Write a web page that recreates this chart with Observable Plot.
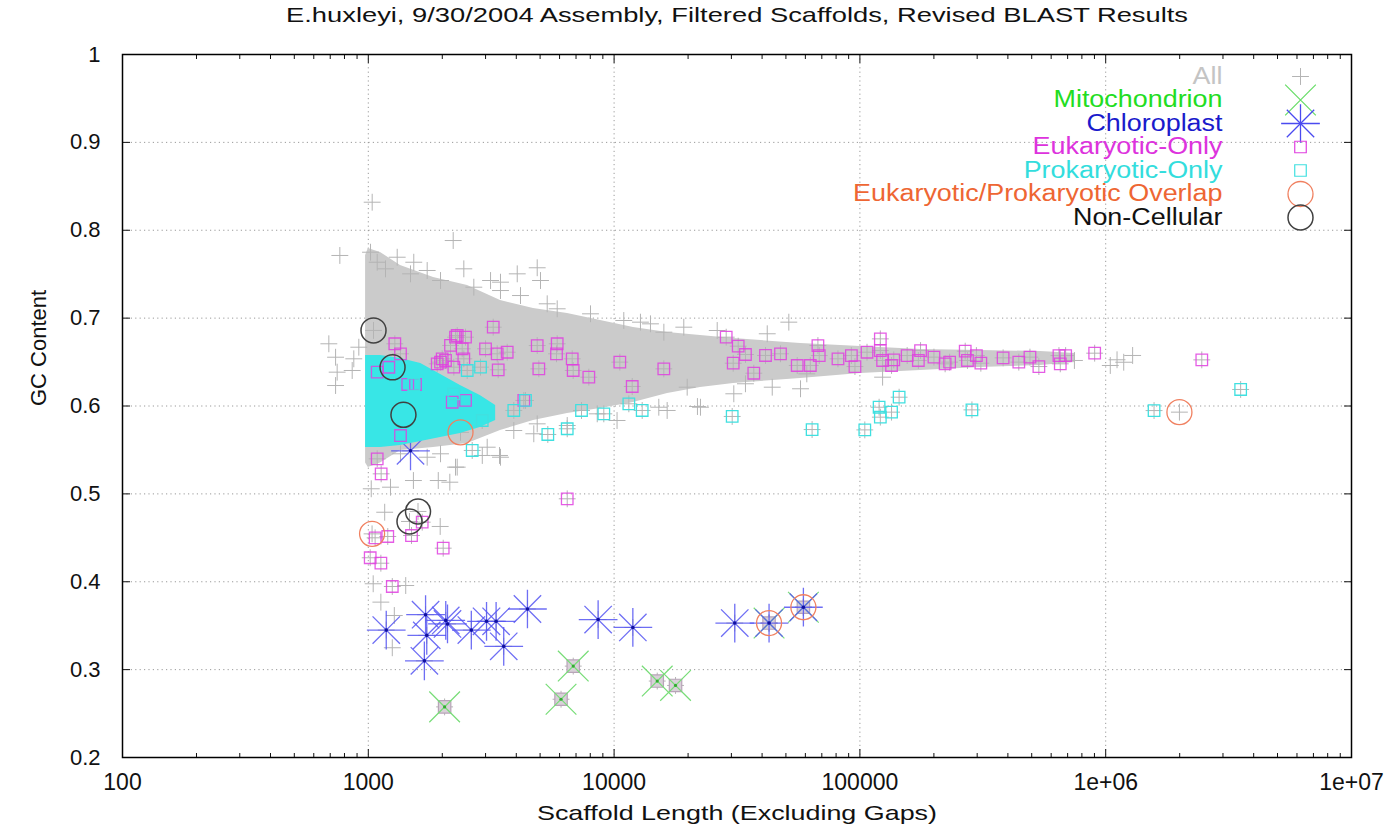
<!DOCTYPE html>
<html><head><meta charset="utf-8">
<script src="https://cdn.jsdelivr.net/npm/d3@7"></script>
<script src="https://cdn.jsdelivr.net/npm/@observablehq/plot@0.6"></script>
<style>html,body{margin:0;padding:0;background:#fff;} svg{display:block}</style>
</head><body><div id="chart"></div>
<script>
// ---------- text ----------
const titleText = "E.huxleyi, 9/30/2004 Assembly, Filtered Scaffolds, Revised BLAST Results";
const xTitle = "Scaffold Length (Excluding Gaps)";
const yTitle = "GC Content";
const xTicks = [100, 1000, 10000, 100000, 1000000, 10000000];
const xTickLabels = ["100", "1000", "10000", "100000", "1e+06", "1e+07"];
const yTicks = [0.2, 0.3, 0.4, 0.5, 0.6, 0.7, 0.8, 0.9, 1];
const yTickLabels = ["0.2", "0.3", "0.4", "0.5", "0.6", "0.7", "0.8", "0.9", "1"];
const legendLabels = ["All", "Mitochondrion", "Chloroplast", "Eukaryotic-Only", "Prokaryotic-Only", "Eukaryotic/Prokaryotic Overlap", "Non-Cellular"];
const legendColors = ["#c4c4c4", "#22dd22", "#1a1acc", "#dd33dd", "#33dddd", "#ee6633", "#111111"];

// ---------- "All" dense core (envelope of the cloud) ----------
const allBandX  = [975, 1000, 1121, 1352, 1842, 2533, 3450, 4700, 6462, 8803, 11990, 16500, 22460, 30600, 57340, 100600, 176400, 309500, 543000, 753500];
const allBandHi = [0.7713, 0.7792, 0.7747, 0.7599, 0.7462, 0.7371, 0.7201, 0.7110, 0.7053, 0.6973, 0.6893, 0.6837, 0.6802, 0.6768, 0.6711, 0.6677, 0.6643, 0.6632, 0.6620, 0.6598];
const allBandLo = [0.5350, 0.5300, 0.5350, 0.5494, 0.5528, 0.5573, 0.5721, 0.5835, 0.5915, 0.5972, 0.6040, 0.6142, 0.6211, 0.6256, 0.6313, 0.6370, 0.6404, 0.6438, 0.6461, 0.6495];
// ---------- "All" individual points around the core ----------
const allX = [1037, 766, 1021, 1311, 1531, 2215, 2447, 4866, 5019, 4036, 3450, 3143, 5868, 12800, 19210, 51380, 691, 736, 873, 747, 860, 736, 915, 19830, 34230, 43990, 22460, 3450, 2300, 1967, 3908, 4866, 8539, 15200, 1166, 1961, 1028, 1231, 1526, 1926, 2146, 2909, 3418, 2264, 1047, 1125, 1420, 1276, 1252, 15940, 21830, 123700, 60810, 1044000, 1184000, 1287000, 1112000, 746000, 1087, 1175, 1485, 1736, 1967, 2687, 3450, 4161, 5344, 8017, 10950, 14060, 26270, 41980, 1352, 1736, 3046, 4713, 6446, 10280, 16440, 30690, 57340];
const allY = [0.8319, 0.7713, 0.775, 0.7693, 0.7636, 0.7883, 0.7561, 0.7573, 0.7428, 0.7504, 0.7409, 0.7428, 0.7106, 0.6954, 0.6897, 0.6954, 0.6708, 0.6555, 0.6537, 0.6385, 0.6404, 0.6233, 0.6669, 0.6214, 0.6253, 0.6214, 0.5986, 0.5417, 0.5304, 0.5456, 0.5721, 0.5797, 0.5911, 0.5986, 0.4791, 0.4629, 0.5058, 0.5076, 0.5152, 0.5152, 0.5133, 0.5437, 0.5437, 0.5304, 0.3977, 0.3768, 0.3957, 0.3616, 0.3249, 0.684, 0.5994, 0.6328, 0.6366, 0.6461, 0.6498, 0.6575, 0.6526, 0.6518, 0.7636, 0.7561, 0.7504, 0.7542, 0.7428, 0.7352, 0.7314, 0.7257, 0.7163, 0.7049, 0.6973, 0.6935, 0.6859, 0.6822, 0.5456, 0.5417, 0.5531, 0.5684, 0.5778, 0.5835, 0.5949, 0.6139, 0.6196];

// ---------- Mitochondrion ----------
const mitoX = [2044, 6083, 6820, 14980, 17780, 42700, 58900];
const mitoY = [0.2576, 0.2663, 0.304, 0.287, 0.282, 0.353, 0.371];
// ---------- Chloroplast ----------
const chloroX = [1485, 1183, 1710, 1729, 1691, 2066, 2100, 2625, 3027, 3311, 4441, 3556, 8610, 11920, 30970, 42700, 58900];
const chloroY = [0.549, 0.345, 0.3625, 0.339, 0.310, 0.356, 0.352, 0.345, 0.355, 0.355, 0.369, 0.3265, 0.357, 0.348, 0.353, 0.353, 0.371];
// ---------- Eukaryotic-Only ----------
const eukX = [1282, 1352, 1087, 1212, 1556, 1447, 1352, 1087, 1128, 1907, 1998, 2061, 2160, 2264, 2486, 2410, 2447, 2228, 3223, 2999, 3345, 3674, 3377, 4866, 4940, 5868, 5830, 6754, 6816, 7892, 10550, 11850, 15930, 28580, 31980, 30520, 34230, 37010, 41300, 47530, 55590, 2195, 2486, 4292, 1967, 2300, 6446, 1066, 1200, 1499, 1657, 2017, 1018, 1125, 1252, 62850, 67480, 68330, 81440, 92340, 95460, 106900, 121100, 121100, 123700, 134500, 137300, 155700, 172900, 176500, 200100, 222200, 231700, 268200, 273900, 297800, 310500, 382500, 443100, 491800, 534700, 645300, 687100, 653500, 901800, 2460000];
const eukY = [0.6708, 0.6594, 0.6385, 0.6441, 0.6245, 0.6245, 0.5664, 0.5399, 0.5228, 0.6480, 0.6537, 0.6518, 0.6689, 0.6783, 0.6783, 0.6651, 0.6537, 0.6442, 0.6897, 0.6651, 0.6594, 0.6612, 0.6412, 0.6688, 0.6423, 0.6708, 0.6594, 0.6537, 0.6404, 0.6328, 0.6499, 0.6222, 0.6423, 0.6783, 0.6681, 0.6487, 0.6586, 0.6373, 0.6575, 0.6594, 0.6461, 0.6043, 0.6063, 0.6063, 0.6499, 0.6802, 0.4944, 0.45, 0.4515, 0.4526, 0.4678, 0.4382, 0.4273, 0.4211, 0.3946, 0.6461, 0.6688, 0.6574, 0.6537, 0.6574, 0.6449, 0.6612, 0.6764, 0.6631, 0.6518, 0.6461, 0.6525, 0.6574, 0.6518, 0.6631, 0.6556, 0.648, 0.6499, 0.6624, 0.6518, 0.6574, 0.6487, 0.6548, 0.6499, 0.6556, 0.6449, 0.6574, 0.6574, 0.648, 0.6601, 0.6525];
// ---------- Prokaryotic-Only (dense core + individual) ----------
const prokBandX  = [975, 1121, 1352, 1635, 1969, 2370, 2853, 3297];
const prokBandHi = [0.6575, 0.6575, 0.6541, 0.6484, 0.6359, 0.6233, 0.6120, 0.6006];
const prokBandLo = [0.5528, 0.5528, 0.5551, 0.5596, 0.5642, 0.5687, 0.5755, 0.5835];
const prokX = [2647, 2907, 3908, 4360, 5375, 6446, 7369, 9081, 11480, 13010, 30230, 2861, 2526, 2228, 1530, 63910, 104700, 119700, 121100, 134500, 144400, 285600, 1573000, 3540000];
const prokY = [0.5494, 0.5835, 0.5949, 0.6063, 0.5676, 0.5741, 0.5949, 0.5911, 0.6025, 0.5949, 0.5881, 0.6442, 0.6404, 0.6139, 0.6245, 0.5732, 0.5728, 0.5986, 0.5873, 0.5930, 0.6100, 0.5956, 0.5948, 0.6188];
// ---------- Overlap ----------
const overlapX = [1036, 2372, 42700, 58900, 1995000];
const overlapY = [0.4545, 0.570, 0.353, 0.371, 0.593];
// ---------- Non-Cellular ----------
const nonCellX = [1050, 1255, 1390, 1471, 1593];
const nonCellY = [0.686, 0.644, 0.590, 0.4686, 0.480];

// ---------- tables ----------
const rows = (xs, ys) => xs.map((x, i) => ({x, y: ys[i]}));
const band = (xs, lo, hi) => xs.map((x, i) => ({x, lo: lo[i], hi: hi[i]}));
const allPts = rows(allX, allY);
const mito = rows(mitoX, mitoY);
const chloro = rows(chloroX, chloroY);
const euk = rows(eukX, eukY);
const prok = rows(prokX, prokY);
const overlap = rows(overlapX, overlapY);
const nonCell = rows(nonCellX, nonCellY);
const everyScaffold = [...allPts, ...mito, ...chloro, ...euk, ...prok, ...overlap, ...nonCell];

const xMinor = [];
for (let d = 100; d < 1e7; d *= 10) for (let k = 2; k <= 9; k++) xMinor.push(d * k);

const fmtX = d => xTickLabels[xTicks.indexOf(d)];
const fmtY = d => yTickLabels[yTicks.indexOf(d)];
const none = () => "";

const legendSymbols = [
  [{symbol: "plus", r: 5.5, stroke: "#b4b4b4", strokeWidth: 1}],
  [{symbol: "times", r: 14, stroke: "#66dd66", strokeWidth: 1.2}],
  [{symbol: "plus", r: 12.5, stroke: "#4a4af0", strokeWidth: 1.3}, {symbol: "times", r: 12.5, stroke: "#4a4af0", strokeWidth: 1.3}],
  [{symbol: "square", r: 6.5, stroke: "#e040e0", strokeWidth: 1.2}],
  [{symbol: "square", r: 6.5, stroke: "#40e0e0", strokeWidth: 1.2}],
  [{symbol: "circle", r: 12.5, stroke: "#f08060", strokeWidth: 1.3}],
  [{symbol: "circle", r: 12.5, stroke: "#404040", strokeWidth: 1.5}]
];
const legendMarks = [];
legendLabels.forEach((lab, i) => {
  legendMarks.push(Plot.text([lab], {frameAnchor: "top-right", lineAnchor: "middle", dx: -129, dy: 22 + 23.5 * i, textAnchor: "end", fill: legendColors[i], fontSize: 23}));
  legendSymbols[i].forEach(s => legendMarks.push(Plot.dot([lab], {frameAnchor: "top-right", dx: -51, dy: 22 + 23.5 * i, fill: "none", ...s})));
});

const chart = Plot.plot({
  width: 1393,
  height: 830,
  marginLeft: 122,
  marginRight: 42,
  marginTop: 54,
  marginBottom: 73,
  style: {fontFamily: "'Liberation Sans', Arial, Helvetica, sans-serif", fontSize: "22px", background: "#fff", color: "#111"},
  x: {type: "log", domain: [100, 1e7]},
  y: {domain: [0.2, 1]},
  marks: [
    Plot.gridX(xTicks, {stroke: "#888", strokeOpacity: 0.85, strokeDasharray: "1.2,3.2", strokeWidth: 1}),
    Plot.gridY(yTicks, {stroke: "#888", strokeOpacity: 0.85, strokeDasharray: "1.2,3.2", strokeWidth: 1}),
    // All
    Plot.areaY(band(allBandX, allBandLo, allBandHi), {x: "x", y1: "lo", y2: "hi", fill: "#cbcbcb", curve: "linear"}),
    Plot.dot(everyScaffold, {x: "x", y: "y", symbol: "plus", r: 5.5, stroke: "#b4b4b4", strokeWidth: 1}),
    // Mitochondrion
    Plot.dot(mito, {x: "x", y: "y", symbol: "square", r: 7, stroke: "#b8a4b8", fill: "#d8d0d8", strokeWidth: 1.2}),
    Plot.dot(mito, {x: "x", y: "y", symbol: "times", r: 14, stroke: "#77dd77", strokeWidth: 1.2}),
    Plot.dot(mito, {x: "x", y: "y", r: 1.6, fill: "#33aa33"}),
    // Chloroplast
    Plot.dot(chloro, {x: "x", y: "y", symbol: "plus", r: 12.5, stroke: "#5555f2", strokeWidth: 1.3, strokeOpacity: 0.85}),
    Plot.dot(chloro, {x: "x", y: "y", symbol: "times", r: 12.5, stroke: "#5555f2", strokeWidth: 1.3, strokeOpacity: 0.85}),
    Plot.dot(chloro, {x: "x", y: "y", r: 1.8, fill: "#1010a0"}),
    // Prokaryotic dense core
    Plot.areaY(band(prokBandX, prokBandLo, prokBandHi), {x: "x", y1: "lo", y2: "hi", fill: "#38e6e6", curve: "linear"}),
    // Eukaryotic-Only
    Plot.dot(euk, {x: "x", y: "y", symbol: "square", r: 6.5, stroke: "#e040e0", strokeWidth: 1.3, strokeOpacity: 0.85}),
    // Prokaryotic-Only
    Plot.dot(prok, {x: "x", y: "y", symbol: "square", r: 6.5, stroke: "#40e0e0", strokeWidth: 1.3}),
    // Overlap
    Plot.dot(overlap, {x: "x", y: "y", symbol: "circle", r: 12.5, stroke: "#f08060", strokeWidth: 1.3}),
    // Non-Cellular
    Plot.dot(nonCell, {x: "x", y: "y", symbol: "circle", r: 12.5, stroke: "#404040", strokeWidth: 1.5}),
    // axes
    Plot.axisX(xTicks, {anchor: "bottom", tickSize: -8, tickPadding: 24, tickFormat: fmtX, label: null, fontSize: 23}),
    Plot.axisX(xTicks, {anchor: "top", tickSize: -8, tickFormat: none, label: null}),
    Plot.axisX(xMinor, {anchor: "bottom", tickSize: -4, tickFormat: none, label: null}),
    Plot.axisX(xMinor, {anchor: "top", tickSize: -4, tickFormat: none, label: null}),
    Plot.axisY(yTicks, {anchor: "left", tickSize: -8, tickPadding: 30, tickFormat: fmtY, label: null, fontSize: 22}),
    Plot.axisY(yTicks, {anchor: "right", tickSize: -8, tickFormat: none, label: null}),
    Plot.frame({stroke: "#000", strokeWidth: 1.5}),
    // titles
    Plot.text([titleText], {frameAnchor: "top", lineAnchor: "middle", dy: -39, fontSize: 21, fill: "#111"}),
    Plot.text([xTitle], {frameAnchor: "bottom", lineAnchor: "middle", dy: 56, fontSize: 21, fill: "#111"}),
    Plot.text([yTitle], {frameAnchor: "left", lineAnchor: "middle", dx: -84, rotate: -90, fontSize: 22, fill: "#111"}),
    ...legendMarks
  ]
});
document.getElementById("chart").appendChild(chart);

// match the reference's wider lettering
const targetWidths = {};
targetWidths[titleText] = 902;
targetWidths[xTitle] = 400;
chart.querySelectorAll("text").forEach(t => {
  const s = t.textContent;
  if (s in targetWidths) {
    t.setAttribute("textLength", targetWidths[s]);
    t.setAttribute("lengthAdjust", "spacingAndGlyphs");
  } else if (legendLabels.includes(s)) {
    t.setAttribute("textLength", t.getComputedTextLength() * 1.17);
    t.setAttribute("lengthAdjust", "spacingAndGlyphs");
  }
});
</script></body></html>
